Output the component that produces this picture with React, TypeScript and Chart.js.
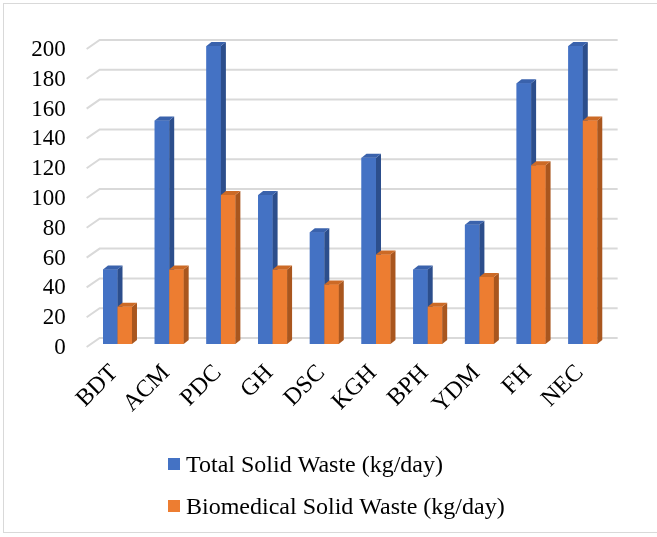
import React, { useEffect, useRef } from "react";
import { Chart, registerables } from "chart.js";

Chart.register(...registerables);

const categories = ["BDT", "ACM", "PDC", "GH", "DSC", "KGH", "BPH", "YDM", "FH", "NEC"];
const totalWaste = [50, 150, 200, 100, 75, 125, 50, 80, 175, 200];
const biomedicalWaste = [25, 50, 100, 50, 40, 60, 25, 45, 120, 150];
const seriesLabels = ["Total Solid Waste (kg/day)", "Biomedical Solid Waste (kg/day)"];
const yMin = 0;
const yMax = 200;
const yStep = 20;

const FRONT = ["#4472C4", "#ED7D31"];
const TOP = ["#3A62AC", "#CC6A26"];
const SIDE = ["#2C4E8C", "#A9561E"];
const FONT = "'Liberation Serif', 'Times New Roman', serif";

const DX = 5;
const DY = 4;

const gridPlugin = {
  id: "grid3d",
  beforeDatasetsDraw(chart: any) {
    const { ctx, chartArea, scales } = chart;
    const ys = scales.y;
    ctx.save();
    ctx.strokeStyle = "#D9D9D9";
    ctx.lineWidth = 2;
    ys.ticks.forEach((t: any) => {
      const y = ys.getPixelForValue(t.value);
      ctx.beginPath();
      ctx.moveTo(chartArea.left - 5, y + 3);
      ctx.lineTo(chartArea.left + 8, y - 6);
      ctx.lineTo(chartArea.right + 9, y - 6);
      ctx.stroke();
    });
    ctx.restore();
  },
};

const bar3dPlugin = {
  id: "bar3d",
  afterDatasetsDraw(chart: any) {
    const { ctx } = chart;
    ctx.save();
    chart.data.datasets.forEach((ds: any, di: number) => {
      const meta = chart.getDatasetMeta(di);
      meta.data.forEach((el: any) => {
        const { x, y, base, width } = el.getProps(["x", "y", "base", "width"], true);
        const l = x - width / 2;
        const r = x + width / 2;
        el.draw(ctx);
        ctx.fillStyle = SIDE[di];
        ctx.beginPath();
        ctx.moveTo(r, y);
        ctx.lineTo(r + DX, y - DY);
        ctx.lineTo(r + DX, base - DY);
        ctx.lineTo(r, base);
        ctx.closePath();
        ctx.fill();
        ctx.fillStyle = TOP[di];
        ctx.beginPath();
        ctx.moveTo(l, y);
        ctx.lineTo(l + DX, y - DY);
        ctx.lineTo(r + DX, y - DY);
        ctx.lineTo(r, y);
        ctx.closePath();
        ctx.fill();
      });
    });
    ctx.restore();
  },
};

const legendPlugin = {
  id: "legendCustom",
  afterDraw(chart: any) {
    const { ctx } = chart;
    ctx.save();
    ctx.font = `24px ${FONT}`;
    ctx.textBaseline = "alphabetic";
    ctx.textAlign = "left";
    chart.data.datasets.forEach((ds: any, i: number) => {
      const rowTop = 458 + i * 42;
      ctx.fillStyle = ds.backgroundColor;
      ctx.fillRect(168, rowTop, 12, 12);
      ctx.fillStyle = "#000";
      ctx.fillText(ds.label, 186, rowTop + 14);
    });
    ctx.restore();
  },
};

export default function App() {
  const ref = useRef<HTMLCanvasElement>(null);
  useEffect(() => {
    document.body.style.margin = "0";
    const chart = new Chart(ref.current!, {
      type: "bar",
      data: {
        labels: categories,
        datasets: [
          { label: seriesLabels[0], data: totalWaste, backgroundColor: FRONT[0], clip: false as any },
          { label: seriesLabels[1], data: biomedicalWaste, backgroundColor: FRONT[1], clip: false as any },
        ],
      },
      options: {
        responsive: false,
        animation: false,
        layout: { padding: { top: 46, left: 0, right: 48.35, bottom: 0 } },
        datasets: { bar: { categoryPercentage: 0.56, barPercentage: 1 } },
        plugins: { legend: { display: false }, tooltip: { enabled: false } },
        scales: {
          x: {
            grid: { display: false },
            border: { display: false },
            ticks: {
              color: "#000",
              font: { family: FONT, size: 24 },
              maxRotation: 45,
              minRotation: 45,
              autoSkip: false,
              padding: 7,
              labelOffset: -3,
            },
            afterFit(scale: any) {
              scale.height = 537 - 344;
            },
          },
          y: {
            min: yMin,
            max: yMax,
            grid: { display: false },
            border: { display: false },
            ticks: {
              stepSize: yStep,
              autoSkip: false,
              color: "#000",
              font: { family: FONT, size: 23 },
              padding: 18,
              labelOffset: 4,
            },
            afterFit(scale: any) {
              scale.width = 91.65;
            },
          },
        },
      },
      plugins: [gridPlugin, bar3dPlugin, legendPlugin],
    });
    return () => chart.destroy();
  }, []);
  return (
    <div style={{ position: "relative", width: 657, height: 537, overflow: "hidden" }}>
      <div
        style={{
          position: "absolute",
          left: 3,
          top: 3,
          width: 660,
          height: 530,
          border: "1px solid #D9D9D9",
          boxSizing: "border-box",
        }}
      />
      <canvas ref={ref} width={657} height={537} style={{ position: "absolute", left: 0, top: 0 }} />
    </div>
  );
}
